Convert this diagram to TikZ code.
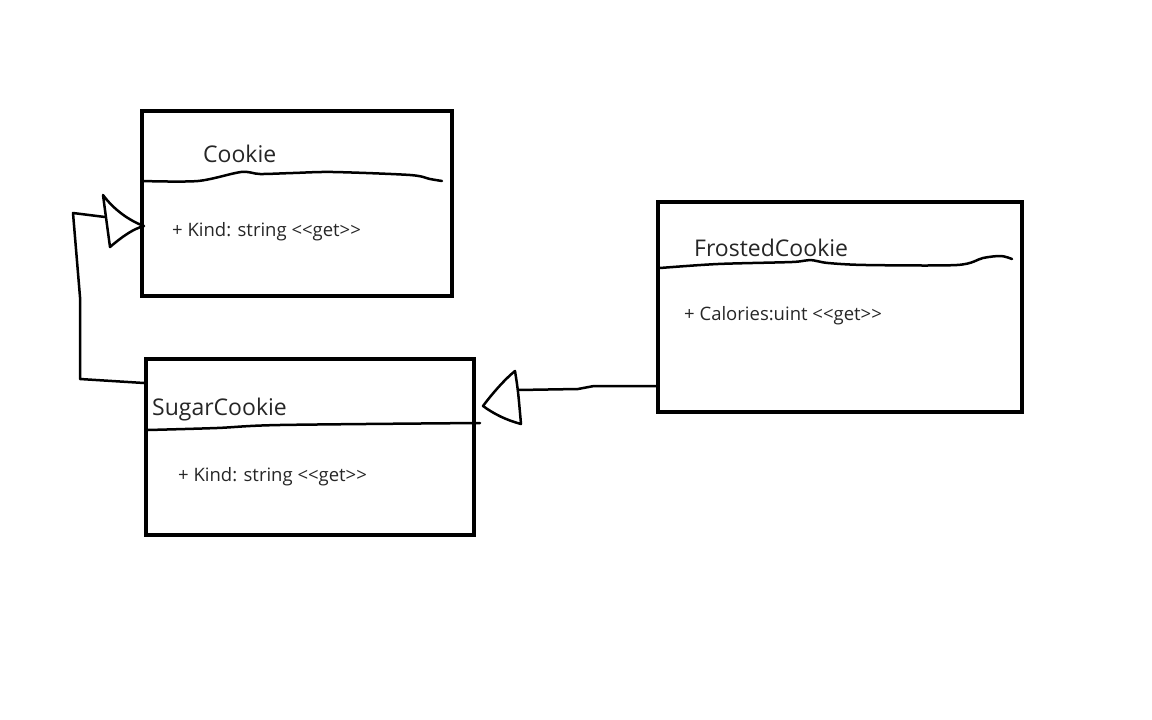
\documentclass[tikz,border=0pt]{standalone}
\usepackage{fontspec}
\setmainfont{Open Sans}
\begin{document}
\begin{tikzpicture}[x=1pt,y=-1pt,
  classbox/.style={draw=black, line width=4.5pt, rectangle, inner sep=0pt},
  titletext/.style={anchor=west, inner sep=0pt, font=\fontsize{23}{27}\selectfont, text=black!85},
  membertext/.style={anchor=west, inner sep=0pt, font=\fontsize{18.5}{22}\selectfont, text=black!85},
  sketch/.style={line width=2.5pt, line join=round, line cap=round}]
\useasboundingbox (0,0) rectangle (1152,720);

% class boxes
\node[classbox, minimum width=310pt, minimum height=185pt] (cookie) at (297,203.5) {};
\node[classbox, minimum width=328pt, minimum height=176pt] (sugar) at (310,447) {};
\node[classbox, minimum width=364pt, minimum height=210pt] (frosted) at (840,307) {};

% texts
\node[titletext] (cookieT) at (203,154) {Cookie};
\node[membertext] (cookieM) at (172,232) {+ Kind: string <{}<get>{}>};
\node[titletext] (sugarT) at (152,410) {SugarCookie};
\node[membertext] (sugarM) at (178,477) {+ Kind: string <{}<get>{}>};
\node[titletext] (frostedT) at (694,248) {FrostedCookie};
\node[membertext] (frostedM) at (684,316) {+ Calories:uint <{}<get>{}>};

% separators
\draw[sketch] plot[smooth, tension=0.5] coordinates {(142,181) (198,181) (241,172) (260,174) (293,173) (333,172) (410,175) (430,179) (442,181)};
\draw[sketch] plot[smooth, tension=0.5] coordinates {(148,430) (217,428) (280,425) (480,423)};
\draw[sketch] plot[smooth, tension=0.5] coordinates {(660,268) (718,264) (792,262) (810,260) (828,263) (866,265) (957,265) (983,258) (1001,256) (1012,259)};

% connector SugarCookie -> Cookie
\coordinate (s1) at (144,383);
\coordinate (t1) at (105,217);
\draw[sketch] (s1) -- (80,379) -- (80,297) -- (73,213) -- (t1);
% hollow triangle at Cookie
\coordinate (tip1) at (144,226);
\draw[sketch] (103,195) .. controls (105,210) .. (110,247)
  .. controls (123,236) and (133,229) .. (tip1)
  .. controls (130,221) and (114,210) .. cycle;

% connector FrostedCookie -> SugarCookie
\coordinate (s2) at (656,386);
\coordinate (t2) at (518,390);
\draw[sketch] (s2) -- (594,386) -- (578,389) -- (t2);
% hollow triangle at SugarCookie
\coordinate (tip2) at (483,406);
\draw[sketch] (515,371) .. controls (518,390) .. (521,424)
  .. controls (506,420) and (494,414) .. (tip2)
  .. controls (492,394) and (504,380) .. cycle;
\end{tikzpicture}
\end{document}
